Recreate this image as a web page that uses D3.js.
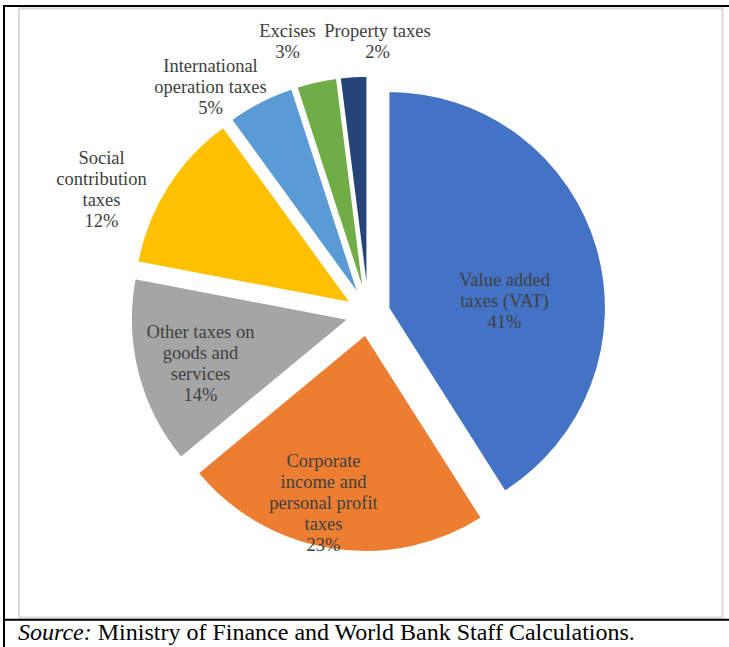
<!DOCTYPE html>
<html>
<head>
<meta charset="utf-8">
<script src="https://cdn.jsdelivr.net/npm/d3@7/dist/d3.min.js"></script>
<style>
  html, body { margin: 0; padding: 0; background: #ffffff; }
  svg { display: block; }
</style>
</head>
<body>
<svg id="chart" width="729" height="647"></svg>
<script>
// Revenue structure by tax type (share of total, %)
const categories = [
  "Value added taxes (VAT)",
  "Corporate income and personal profit taxes",
  "Other taxes on goods and services",
  "Social contribution taxes",
  "International operation taxes",
  "Excises",
  "Property taxes"
];
const shares = [41, 23, 14, 12, 5, 3, 2];

// Label text broken into display lines
const labelLines = [
  ["Value added", "taxes (VAT)"],
  ["Corporate", "income and", "personal profit", "taxes"],
  ["Other taxes on", "goods and", "services"],
  ["Social", "contribution", "taxes"],
  ["International", "operation taxes"],
  ["Excises"],
  ["Property taxes"]
];

const colors = ["#4472C4", "#ED7D31", "#A5A5A5", "#FFC000", "#5B9BD5", "#70AD47", "#264478"];

// Label anchor (x of centre, y of first baseline) relative to the pie centre
const labelAnchor = [
  [136, -28], [-45, 153], [-168, 24], [-267, -150], [-158, -242], [-81, -277], [9, -277]
];

const svg = d3.select("#chart");

// Frame lines
svg.append("rect")
  .attr("x", 19).attr("y", 8.3)
  .attr("width", 703.5).attr("height", 609.2)
  .attr("fill", "none").attr("stroke", "#d9d9d9").attr("stroke-width", 2);
svg.append("line").attr("x1", 3).attr("x2", 729).attr("y1", 6).attr("y2", 6)
  .attr("stroke", "#000").attr("stroke-width", 2);
svg.append("line").attr("x1", 4).attr("x2", 4).attr("y1", 5).attr("y2", 647)
  .attr("stroke", "#000").attr("stroke-width", 2);
svg.append("line").attr("x1", 3).attr("x2", 729).attr("y1", 619.7).attr("y2", 619.7)
  .attr("stroke", "#000").attr("stroke-width", 2);

const cx = 368.5, cy = 314, radius = 217, explode = 21;

const pie = d3.pie().sort(null).value(d => d)(shares);
const arc = d3.arc().innerRadius(0).outerRadius(radius);

const g = svg.append("g").attr("transform", `translate(${cx},${cy})`);

g.selectAll("path.slice")
  .data(pie)
  .join("path")
  .attr("class", "slice")
  .attr("d", arc)
  .attr("fill", (d, i) => colors[i])
  .attr("stroke", "#ffffff")
  .attr("stroke-width", 1.5)
  .attr("transform", d => {
    const mid = (d.startAngle + d.endAngle) / 2;
    return `translate(${explode * Math.sin(mid)},${-explode * Math.cos(mid)})`;
  });

const lineStep = 21;
const labels = g.selectAll("text.lbl")
  .data(pie)
  .join("text")
  .attr("class", "lbl")
  .attr("text-anchor", "middle")
  .attr("font-family", "'Liberation Serif', 'Times New Roman', serif")
  .attr("font-size", 18.5)
  .attr("fill", "#404040")
  .attr("transform", (d, i) => `translate(${labelAnchor[i][0]},${labelAnchor[i][1]})`);

labels.each(function (d, i) {
  const t = d3.select(this);
  const lines = labelLines[i].concat([d.data + "%"]);
  lines.forEach((s, k) => {
    t.append("tspan").attr("x", 0).attr("y", k * lineStep).text(s);
  });
});

// Source note
const src = svg.append("text")
  .attr("x", 18).attr("y", 640)
  .attr("font-family", "'Liberation Serif', 'Times New Roman', serif")
  .attr("font-size", 24)
  .attr("fill", "#000");
src.append("tspan").attr("font-style", "italic").text("Source:");
src.append("tspan").text(" Ministry of Finance and World Bank Staff Calculations.");
</script>
</body>
</html>
